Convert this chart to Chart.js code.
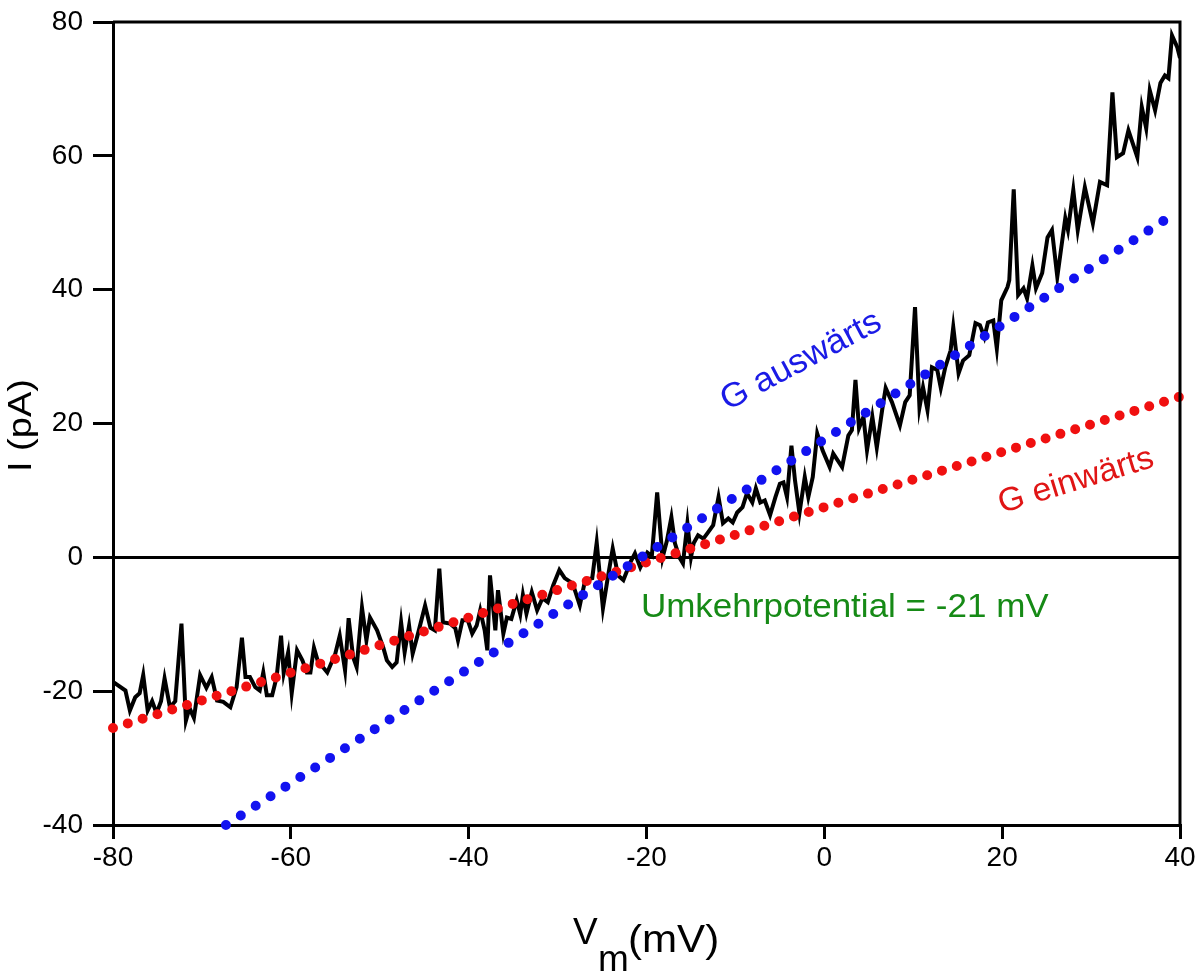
<!DOCTYPE html>
<html>
<head>
<meta charset="utf-8">
<script src="https://cdn.jsdelivr.net/npm/chart.js@4.4.1/dist/chart.umd.min.js"></script>
<style>
    body { margin: 0; background: #fff; }
    #wrap { width: 1204px; height: 976px; }
</style>
</head>
<body>
<div id="wrap"><canvas id="ivChart" width="1204" height="976"></canvas></div>
<script>
// Messkurve (Strom gegen Membranpotential)
const vmTrace = [
    -80, -78.6, -78.1, -77.5, -77.0, -76.6, -76.1, -75.6, -75.1, -74.6, -74.2, -73.6, -73.0, -72.3, -71.8,
    -71.4, -70.9, -70.2, -69.5, -68.9, -68.3, -67.6, -66.8, -66.1, -65.5, -65.1, -64.6, -64.0, -63.5, -63.1,
    -62.7, -62.1, -61.6, -61.1, -60.8, -60.3, -59.9, -59.3, -58.7, -58.2, -57.8, -57.4, -56.9, -56.4, -55.9,
    -55.0, -54.5, -53.9, -53.5, -53.0, -52.6, -52.0, -51.5, -51.1, -50.3, -49.6, -49.2, -48.6, -48.1, -47.6,
    -47.2, -46.7, -46.3, -45.7, -44.9, -44.3, -43.8, -43.3, -42.9, -42.1, -41.5, -41.2, -40.7, -40.1, -39.6,
    -39.1, -38.7, -38.2, -37.9, -37.6, -37.0, -36.7, -36.1, -35.7, -35.2, -34.6, -34.2, -33.9, -33.5, -32.9,
    -32.3, -31.7, -31.1, -30.5, -29.8, -29.2, -28.3, -27.5, -26.9, -26.1, -25.6, -24.9, -24.4, -23.8, -23.2,
    -22.6, -21.8, -21.3, -20.7, -19.9, -19.4, -18.8, -18.2, -17.7, -17.2, -16.8, -16.3, -15.9, -15.4, -15.0,
    -14.7, -14.2, -13.6, -13.1, -12.5, -11.9, -11.4, -10.8, -10.3, -9.8, -9.2, -8.7, -8.1, -7.7, -7.2,
    -6.7, -6.1, -5.5, -5.0, -4.6, -4.2, -3.7, -3.3, -2.8, -2.2, -1.8, -1.3, -0.8, -0.2, 0.6,
    1.0, 2.0, 2.7, 3.1, 3.5, 3.9, 4.4, 4.8, 5.4, 5.9, 6.5, 6.9, 7.6, 8.5, 9.1,
    9.6, 10.2, 10.7, 11.1, 11.6, 12.1, 12.7, 13.1, 13.6, 14.2, 14.5, 15.1, 15.6, 16.3, 17.0,
    17.5, 18.0, 18.4, 19.0, 19.4, 19.9, 20.6, 20.8, 21.3, 21.8, 22.4, 22.8, 23.4, 23.8, 24.5,
    25.1, 25.6, 26.2, 27.1, 27.4, 28.0, 28.5, 29.3, 30.2, 31.0, 31.8, 32.4, 32.9, 33.6, 34.2,
    35.2, 35.7, 36.2, 36.6, 37.2, 37.8, 38.3, 38.7, 39.1, 39.7, 40.0
];
const iTrace = [
    -18.6, -19.9, -22.9, -20.9, -20.3, -17.6, -22.9, -21.5, -23.3, -21.5, -18.1, -22.4, -21.5, -9.9, -24.4,
    -22.5, -24.0, -17.6, -19.5, -17.9, -21.4, -21.6, -22.4, -19.4, -12.0, -17.9, -17.9, -19.4, -19.9, -17.2,
    -20.6, -20.6, -17.9, -11.7, -17.3, -14.2, -20.3, -13.9, -15.4, -17.2, -17.2, -13.5, -15.8, -16.4, -17.2,
    -14.4, -11.7, -16.9, -9.1, -14.9, -16.4, -7.5, -12.4, -9.0, -10.9, -13.5, -15.4, -16.4, -15.7, -9.7,
    -14.2, -10.2, -14.4, -11.4, -7.2, -10.5, -10.9, -1.7, -9.7, -9.9, -10.6, -12.4, -9.4, -9.4, -11.4,
    -10.2, -7.9, -10.9, -13.9, -2.7, -10.9, -4.9, -11.4, -9.0, -9.2, -6.4, -8.5, -5.6, -8.4, -5.2,
    -7.9, -6.1, -6.7, -4.2, -1.9, -3.1, -3.9, -7.2, -3.4, -3.1, 2.2, -7.6, -3.4, 1.3, -2.7,
    -3.4, -0.7, 0.6, -1.5, 0.7, 0.2, 9.7, -0.1, 2.5, 6.0, 2.1, 0.0, -0.9, 5.1, 0.0,
    2.1, 3.3, 2.8, 3.7, 4.8, 9.0, 5.1, 5.8, 5.2, 6.7, 7.5, 9.6, 8.2, 10.3, 8.2,
    8.5, 6.3, 9.0, 11.0, 11.2, 9.0, 16.7, 11.5, 6.6, 12.0, 9.0, 12.0, 18.5, 16.0, 13.5,
    15.5, 13.5, 18.2, 19.0, 26.5, 19.3, 21.0, 16.0, 21.0, 16.4, 22.0, 25.3, 23.2, 19.7, 23.2,
    24.2, 37.4, 22.4, 25.4, 22.0, 28.4, 28.0, 25.3, 28.4, 30.9, 34.4, 27.5, 29.4, 30.2, 35.0,
    34.7, 32.9, 35.1, 35.4, 31.2, 38.4, 40.4, 41.4, 55.0, 39.2, 40.2, 38.7, 43.6, 40.2, 42.5,
    47.8, 48.9, 41.9, 50.7, 48.9, 54.9, 48.9, 55.3, 49.9, 56.1, 55.6, 69.5, 59.8, 60.4, 63.8,
    59.8, 67.3, 64.1, 69.8, 66.8, 70.9, 72.0, 71.6, 78.0, 76.2, 74.6
];

// Geradenanpassungen (Leitfähigkeiten), Endpunkte
const auswaertsV = [-67.3, 39.1];
const auswaertsI = [-40, 51.1];
const einwaertsV = [-80, 40];
const einwaertsI = [-25.5, 24.0];

const xTicks = [-80, -60, -40, -20, 0, 20, 40];
const yTicks = [-40, -20, 0, 20, 40, 60, 80];

function toPoints(xs, ys) {
    const pts = [];
    for (let i = 0; i < xs.length; i++) {
        pts.push({ x: xs[i], y: ys[i] });
    }
    return pts;
}

// Text mit leichter Streckung in Schreibrichtung (wie im Original)
function drawText(ctx, text, x, y, angle, font, color, align, stretch) {
    ctx.save();
    ctx.translate(x, y);
    ctx.rotate(angle * Math.PI / 180);
    ctx.scale(stretch, 1);
    ctx.font = font;
    ctx.fillStyle = color;
    ctx.textAlign = align;
    ctx.textBaseline = "middle";
    ctx.fillText(text, 0, 0);
    ctx.restore();
}

const extras = {
    id: "extras",
    afterDraw(chart) {
        const ctx = chart.ctx;
        const a = chart.chartArea;
        const xs = chart.scales.x;
        const ys = chart.scales.y;

        // Rahmen oben und rechts
        ctx.save();
        ctx.strokeStyle = "#000";
        ctx.lineWidth = 3;
        ctx.beginPath();
        ctx.moveTo(a.left, a.top);
        ctx.lineTo(a.right, a.top);
        ctx.lineTo(a.right, a.bottom);
        ctx.stroke();
        ctx.restore();

        const f = "Liberation Sans, Arial, sans-serif";
        drawText(ctx, "G auswärts", xs.getPixelForValue(-2.6), ys.getPixelForValue(29.3), -28, "34px " + f, "#1a1ae6", "center", 1.03);
        drawText(ctx, "G einwärts", xs.getPixelForValue(28.3), ys.getPixelForValue(11.4), -17, "33px " + f, "#e01515", "center", 1.02);
        drawText(ctx, "Umkehrpotential = -21 mV", xs.getPixelForValue(2.3), ys.getPixelForValue(-7.5), 0, "34px " + f, "#168a16", "center", 1.03);

        // Achsentitel
        drawText(ctx, "I (pA)", 22, (a.top + a.bottom) / 2 + 2, -90, "34px " + f, "#000", "center", 1.12);
        drawText(ctx, "V", 573, 934, 0, "37px " + f, "#000", "left", 1);
        drawText(ctx, "m", 598, 961, 0, "37px " + f, "#000", "left", 1);
        drawText(ctx, "(mV)", 628, 941, 0, "39px " + f, "#000", "left", 1.08);
    }
};

const ctx = document.getElementById("ivChart");

new Chart(ctx, {
    type: "line",
    data: {
        datasets: [
            {
                label: "G auswärts",
                data: toPoints(auswaertsV, auswaertsI),
                borderColor: "#1212f0",
                borderWidth: 10,
                borderDash: [0, 17.7],
                borderCapStyle: "round",
                pointRadius: 0,
                clip: 12
            },
            {
                label: "G einwärts",
                data: toPoints(einwaertsV, einwaertsI),
                borderColor: "#f01010",
                borderWidth: 10,
                borderDash: [0, 15.5],
                borderCapStyle: "round",
                pointRadius: 0,
                clip: 12
            },
            {
                label: "I",
                data: toPoints(vmTrace, iTrace),
                borderColor: "#000",
                borderWidth: 4,
                borderJoinStyle: "miter",
                pointRadius: 0,
                tension: 0
            }
        ]
    },
    options: {
        responsive: false,
        animation: false,
        devicePixelRatio: 1,
        layout: { padding: { top: 22, right: 24, left: 0, bottom: 0 } },
        plugins: {
            legend: { display: false },
            tooltip: { enabled: false }
        },
        scales: {
            x: {
                type: "linear",
                min: -80,
                max: 40,
                afterFit: (scale) => {
                    scale.height = 151;
                    scale.paddingLeft = 0;
                    scale.paddingRight = 0;
                },
                afterBuildTicks: (scale) => { scale.ticks = xTicks.map(v => ({ value: v })); },
                border: { display: true, color: "#000", width: 3 },
                grid: { drawOnChartArea: false, color: "#000", lineWidth: 3, tickLength: 14 },
                ticks: {
                    color: "#000",
                    padding: 2,
                    maxRotation: 0,
                    font: { family: "Liberation Sans, Arial, sans-serif", size: 28 }
                }
            },
            y: {
                type: "linear",
                min: -40,
                max: 80,
                afterFit: (scale) => {
                    scale.width = 113;
                    scale.paddingTop = 0;
                    scale.paddingBottom = 0;
                },
                afterBuildTicks: (scale) => { scale.ticks = yTicks.map(v => ({ value: v })); },
                border: { display: true, color: "#000", width: 3 },
                grid: {
                    color: (c) => (c.tick && c.tick.value === 0 ? "#000" : "rgba(0,0,0,0)"),
                    tickColor: "#000",
                    lineWidth: 3,
                    tickLength: 20
                },
                ticks: {
                    color: "#000",
                    padding: 10,
                    font: { family: "Liberation Sans, Arial, sans-serif", size: 28 }
                }
            }
        }
    },
    plugins: [extras]
});
</script>
</body>
</html>
